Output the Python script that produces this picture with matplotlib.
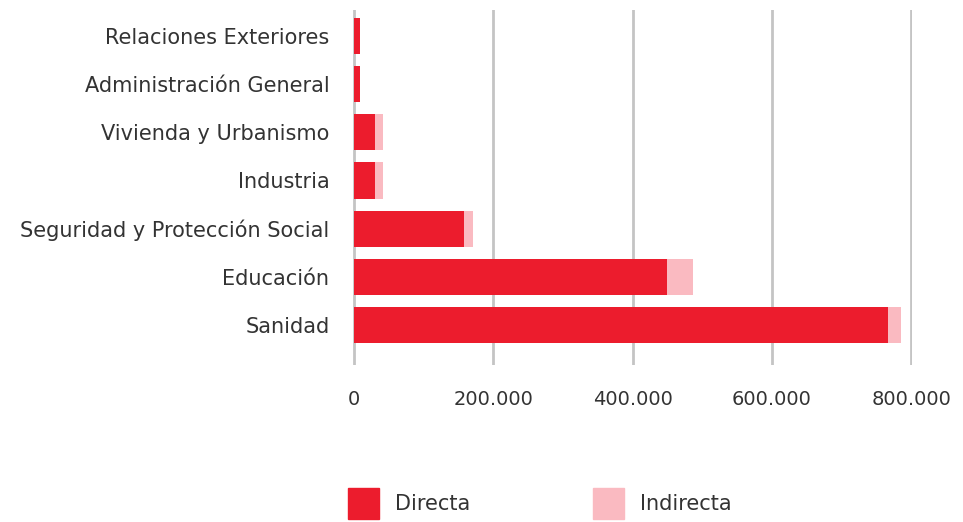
import matplotlib.pyplot as plt
from matplotlib.patches import Patch
from matplotlib.ticker import FuncFormatter

categorias = ['Sanidad', 'Educación', 'Seguridad y Protección Social', 'Industria',
              'Vivienda y Urbanismo', 'Administración General', 'Relaciones Exteriores']
directa = [766600, 450000, 157800, 30000, 30000, 8500, 8500]
indirecta = [18600, 37000, 13200, 11700, 11700, 0, 0]
xticks = [0, 200000, 400000, 600000, 800000]

rojo = '#EC1C2D'
rosa = '#FABAC1'
texto = '#333333'

plt.rcParams['font.family'] = ['DejaVu Sans']

fig = plt.figure(figsize=(9.63, 5.22), dpi=100)
ax = fig.add_axes([0.3666, 0.3008, 0.5807, 0.6802])

pos = range(len(categorias))
ax.barh(pos, directa, height=0.75, color=rojo, zorder=3)
ax.barh(pos, indirecta, left=directa, height=0.75, color=rosa, zorder=3)

ax.set_xlim(-1500, 801500)
ax.set_ylim(-0.83, 6.54)
ax.set_xticks(xticks)
ax.xaxis.set_major_formatter(FuncFormatter(lambda v, p: f'{int(v):,}'.replace(',', '.')))
ax.set_yticks(list(pos))
ax.set_yticklabels(categorias)
ax.grid(axis='x', color='#c4c4c4', linewidth=2, zorder=0)
for s in ax.spines.values():
    s.set_visible(False)
ax.tick_params(axis='x', length=0, pad=18, labelsize=14, labelcolor=texto)
ax.tick_params(axis='y', length=0, pad=17, labelsize=15, labelcolor=texto)

handles = [Patch(color=rojo, label='Directa'), Patch(color=rosa, label='Indirecta')]
fig.legend(handles=handles, loc='lower left', bbox_to_anchor=(0.342, -0.03), ncol=2,
           frameon=False, fontsize=15, handlelength=1.49, handleheight=1.87,
           columnspacing=5.9, handletextpad=0.77, labelcolor=texto)

fig.savefig('out.png', dpi=100)
